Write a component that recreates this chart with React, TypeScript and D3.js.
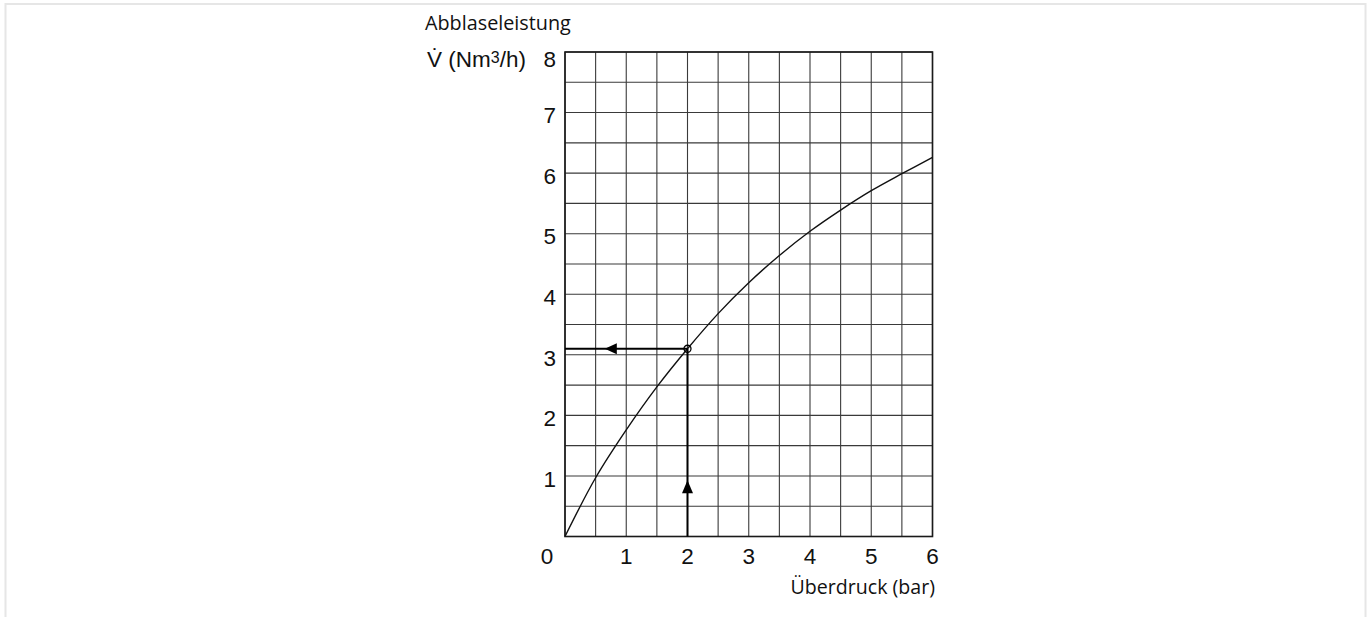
import { useRef, useEffect } from 'react';
import * as d3 from 'd3';

const W = 1369;
const H = 617;
const PLOT = { left: 565, right: 932.5, top: 52, bottom: 536.5 };

// pressure (bar) and blow-off rate (Nm³/h)
const PRESSURE = [0, 0.5, 1, 1.5, 2, 2.5, 3, 3.5, 4, 4.5, 5, 5.5, 6];
const FLOW     = [0, 0.97, 1.76, 2.47, 3.1, 3.68, 4.19, 4.64, 5.04, 5.39, 5.71, 5.99, 6.26];

const X_TICKS = [0, 1, 2, 3, 4, 5, 6];
const Y_TICKS = [0, 1, 2, 3, 4, 5, 6, 7, 8];
const GRID_STEP = 0.5;

// worked example: 2 bar -> 3.1 Nm³/h
const READ_P = 2;
const READ_V = 3.1;
const ARROW_UP_TIP = 0.93;
const ARROW_LEFT_TIP = 0.65;

const TICK_FONT = '"Liberation Sans", Arial, sans-serif';
const LABEL_FONT = '"Open Sans", "Noto Sans", sans-serif';

export default function App() {
  const svgRef = useRef<SVGSVGElement | null>(null);

  useEffect(() => {
    const el = svgRef.current;
    if (!el) return;
    el.innerHTML = '';
    const root = d3.select(el);

    // light page frame
    root.append('rect')
      .attr('x', 5.5).attr('y', 4)
      .attr('width', 1360).attr('height', 800)
      .attr('fill', 'none')
      .attr('stroke', '#e6e6e6')
      .attr('stroke-width', 2);

    const x = d3.scaleLinear().domain([0, 6]).range([PLOT.left, PLOT.right]);
    const y = d3.scaleLinear().domain([0, 8]).range([PLOT.bottom, PLOT.top]);

    const g = root.append('g');

    // grid every 0.5
    const xs = d3.range(0, 6 + 1e-9, GRID_STEP);
    const ys = d3.range(0, 8 + 1e-9, GRID_STEP);
    g.append('g').selectAll('line').data(xs).join('line')
      .attr('x1', d => x(d)).attr('x2', d => x(d))
      .attr('y1', y(0)).attr('y2', y(8))
      .attr('stroke', '#3a3a3a').attr('stroke-width', 1.1);
    g.append('g').selectAll('line').data(ys).join('line')
      .attr('y1', d => y(d)).attr('y2', d => y(d))
      .attr('x1', x(0)).attr('x2', x(6))
      .attr('stroke', '#3a3a3a').attr('stroke-width', 1.1);

    g.append('rect')
      .attr('x', x(0)).attr('y', y(8))
      .attr('width', x(6) - x(0)).attr('height', y(0) - y(8))
      .attr('fill', 'none').attr('stroke', '#1a1a1a').attr('stroke-width', 1.6);

    // curve
    const pts = PRESSURE.map((p, i) => [p, FLOW[i]] as [number, number]);
    const line = d3.line<[number, number]>()
      .x(d => x(d[0])).y(d => y(d[1]))
      .curve(d3.curveCatmullRom.alpha(0.5));
    g.append('path')
      .attr('d', line(pts))
      .attr('fill', 'none')
      .attr('stroke', '#111')
      .attr('stroke-width', 1.4);

    // reading lines with arrows
    g.append('line')
      .attr('x1', x(READ_P)).attr('x2', x(READ_P))
      .attr('y1', y(0)).attr('y2', y(READ_V))
      .attr('stroke', '#000').attr('stroke-width', 2);
    g.append('line')
      .attr('x1', x(READ_P)).attr('x2', x(0))
      .attr('y1', y(READ_V)).attr('y2', y(READ_V))
      .attr('stroke', '#000').attr('stroke-width', 2);

    const ux = x(READ_P), uy = y(ARROW_UP_TIP);
    g.append('path')
      .attr('d', `M${ux},${uy} L${ux - 5.5},${uy + 13} L${ux + 5.5},${uy + 13} Z`)
      .attr('fill', '#000');
    const lx = x(ARROW_LEFT_TIP), ly = y(READ_V);
    g.append('path')
      .attr('d', `M${lx},${ly} L${lx + 12},${ly - 5.5} L${lx + 12},${ly + 5.5} Z`)
      .attr('fill', '#000');

    g.append('circle')
      .attr('cx', x(READ_P)).attr('cy', y(READ_V)).attr('r', 3.5)
      .attr('fill', 'none').attr('stroke', '#000').attr('stroke-width', 1.3);

    // y tick labels
    g.append('g').selectAll('text').data(Y_TICKS.filter(v => v > 0)).join('text')
      .attr('x', x(0) - 9)
      .attr('y', d => y(d) + (d === 8 ? 14.7 : 10.7))
      .attr('text-anchor', 'end')
      .style('font-family', TICK_FONT)
      .style('font-size', '22.5px')
      .attr('fill', '#111')
      .text(d => d);

    // x tick labels (0 sits in the corner, left of the axis)
    g.append('g').selectAll('text').data(X_TICKS).join('text')
      .attr('x', d => d === 0 ? x(0) - 18 : x(d))
      .attr('y', y(0) + 27.5)
      .attr('text-anchor', 'middle')
      .style('font-family', TICK_FONT)
      .style('font-size', '22.5px')
      .attr('fill', '#111')
      .text(d => d);

    // axis titles
    g.append('text')
      .attr('x', 425).attr('y', 30)
      .style('font-family', LABEL_FONT)
      .style('font-size', '19.8px')
      .attr('fill', '#111')
      .text('Abblaseleistung');

    const vt = g.append('text')
      .attr('x', 427).attr('y', y(8) + 14.7)
      .style('font-family', TICK_FONT)
      .style('font-size', '22.5px')
      .attr('fill', '#111');
    vt.append('tspan').text('V\u0307 (Nm');
    vt.append('tspan').attr('dy', -4).style('font-size', '16px').text('3');
    vt.append('tspan').attr('dy', 4).text('/h)');

    g.append('text')
      .attr('x', 935).attr('y', 594)
      .attr('text-anchor', 'end')
      .style('font-family', LABEL_FONT)
      .style('font-size', '19.6px')
      .attr('fill', '#111')
      .text('Überdruck (bar)');
  }, []);

  return (
    <svg
      ref={svgRef}
      width={W}
      height={H}
      style={{ position: 'absolute', left: 0, top: 0, display: 'block', background: '#fff' }}
    />
  );
}
